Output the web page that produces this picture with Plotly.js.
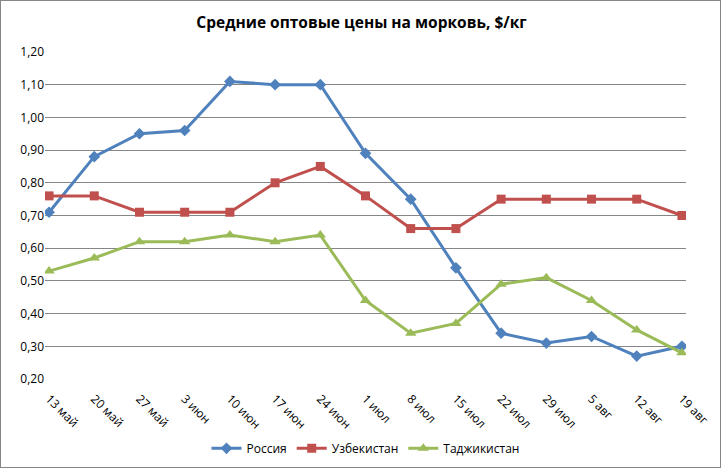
<!DOCTYPE html>
<html>
<head>
<meta charset="utf-8">
<script src="https://cdn.plot.ly/plotly-3.0.1.min.js"></script>
<style>
  html, body { margin: 0; padding: 0; background: #fff; }
  #chart { width: 721px; height: 468px; box-sizing: border-box; border: 1px solid #868686; overflow: hidden; }
</style>
</head>
<body>
<div id="chart"></div>
<script>
var dates = ['13 май','20 май','27 май','3 июн','10 июн','17 июн','24 июн','1 июл',
             '8 июл','15 июл','22 июл','29 июл','5 авг','12 авг','19 авг']

var russia     = [0.71,0.88,0.95,0.96,1.11,1.10,1.10,0.89,0.75,0.54,0.34,0.31,0.33,0.27,0.30]
var uzbekistan = [0.76,0.76,0.71,0.71,0.71,0.80,0.85,0.76,0.66,0.66,0.75,0.75,0.75,0.75,0.70]
var tajikistan = [0.53,0.57,0.62,0.62,0.64,0.62,0.64,0.44,0.34,0.37,0.49,0.51,0.44,0.35,0.28]

var yTicks = [0.2,0.3,0.4,0.5,0.6,0.7,0.8,0.9,1.0,1.1,1.2]

function series(name, y, color, symbol, size) {
    return {
        type: 'scatter',
        mode: 'lines+markers',
        name: name,
        x: dates,
        y: y,
        line: {color: color, width: 3},
        marker: {color: color, symbol: symbol, size: size},
        hoverinfo: 'x+y+name',
    }
}

var data = [
    series('Россия', russia, '#4F81BD', 'diamond', 9),
    series('Узбекистан', uzbekistan, '#C0504D', 'square', 9),
    series('Таджикистан', tajikistan, '#9BBB59', 'triangle-up', 10),
]

var layout = {
    width: 721,
    height: 468,
    margin: {l: 44, r: 36, t: 51, b: 90, autoexpand: false},
    paper_bgcolor: '#fff',
    plot_bgcolor: '#fff',
    font: {family: 'Open Sans, sans-serif', size: 12, color: '#000'},
    title: {
        text: '<b>Средние оптовые цены на морковь, $/кг</b>',
        font: {size: 15.5, color: '#000'},
        x: 0.5, xanchor: 'center',
        y: 0.953, yanchor: 'middle',
    },
    xaxis: {
        type: 'category',
        range: [-0.09, 14.09],
        showgrid: false,
        showline: false,
        zeroline: false,
        ticks: 'outside',
        ticklen: 7,
        tickcolor: 'rgba(0,0,0,0)',
        tickangle: 45,
        tickfont: {size: 12},
        automargin: false,
        fixedrange: true,
    },
    yaxis: {
        range: [0.2, 1.2],
        tickvals: yTicks,
        ticktext: yTicks.map(function (v) { return v.toFixed(2).replace('.', ',') }),
        showgrid: true,
        gridcolor: '#868686',
        gridwidth: 1,
        zeroline: false,
        showline: false,
        ticks: '',
        tickfont: {size: 12},
        automargin: false,
        fixedrange: true,
    },
    showlegend: true,
    legend: {
        orientation: 'h',
        x: 0.5, xanchor: 'center',
        y: -0.212, yanchor: 'middle',
        font: {size: 12},
        itemwidth: 30,
    },
}

Plotly.newPlot('chart', data, layout, {displayModeBar: false, staticPlot: true})
</script>
</body>
</html>
